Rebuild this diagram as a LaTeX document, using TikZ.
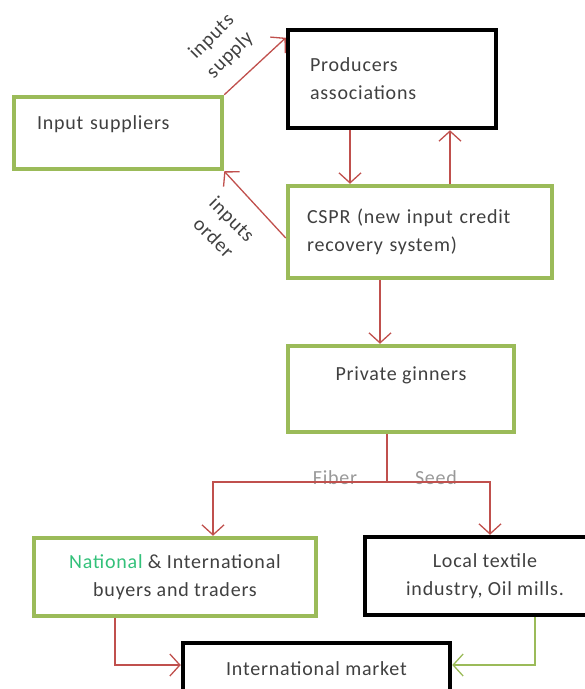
\documentclass[tikz,border=0pt]{standalone}
\usepackage{fontspec}
\setmainfont[LetterSpace=4]{Carlito}
\usepackage{tikz}
\usetikzlibrary{positioning, arrows.meta}
\definecolor{chgreen}{HTML}{9BBB59}
\definecolor{chred}{HTML}{C0504D}
\definecolor{chtext}{HTML}{404040}
\definecolor{chnat}{HTML}{33C17A}
\tikzset{
    chbox/.style={draw=chgreen, line width=4.5pt, fill=white, align=left, text=chtext, font=\fontsize{20}{28}\selectfont},
    chkey/.style={draw=black, line width=4.5pt, fill=white, align=center, text=chtext, font=\fontsize{20}{28}\selectfont},
    charrow/.style={-{Straight Barb[length=10pt, width=22pt]}, line width=1.3pt, draw=chred},
    charrowg/.style={charrow, draw=chgreen},
    chlbl/.style={text=chtext, align=center, font=\fontsize{20}{26}\selectfont},
    chsplit/.style={text=black!40, font=\fontsize{20}{20}\selectfont, anchor=base},
}

\begin{document}
\begin{tikzpicture}[x=1pt, y=-1pt]
        \clip (0,0) rectangle (585,689);
        \node[chbox, minimum width=208pt, minimum height=72pt, text width=162pt, inner xsep=23pt, text depth=20pt] (supp) at (118,133) {Input suppliers};
        \node[chkey, minimum width=208pt, minimum height=98pt, text width=164pt, inner xsep=22pt, align=left] (prod) at (392,79) {Producers\\ associations};
        \node[chbox, minimum width=264pt, minimum height=92pt, text width=226pt, inner xsep=19pt] (cspr) at (420,232) {CSPR (new input credit\\ recovery system)};
        \node[chbox, minimum width=226pt, minimum height=86pt, align=center, text depth=30pt] (ginn) at (401,389) {Private ginners};
        \node[chbox, minimum width=282pt, minimum height=78pt, align=center] (buyers) at (175,577) {\textcolor{chnat}{National} \& International\\ buyers and traders};
        \node[chkey, minimum width=240pt, minimum height=78pt] (local) at (485,576) {Local textile\\ industry, Oil mills.};
        \node[chkey, minimum width=267pt, minimum height=64pt, text depth=12pt] (market) at (316.5,675) {International market};
        \node[chlbl, rotate=45] (supplbl) at (221,46) {inputs\\ supply};
        \node[chlbl, rotate=-45] (orderlbl) at (223,228) {inputs\\ order};
        \node[chsplit] (fiber) at (335,484) {Fiber};
        \node[chsplit] (seed) at (436,484) {Seed};
        \coordinate (split) at (387,482);
        \draw[charrow] (supp.north east) -- ([yshift=-10pt]prod.north west);
        \draw[charrow] ([yshift=-6pt]cspr.west) -- (supp.south east);
        \draw[charrow] ([xshift=-42pt]prod.south) -- ([xshift=-42pt]prod.south |- cspr.north);
        \draw[charrow] ([xshift=58pt]prod.south |- cspr.north) -- ([xshift=58pt]prod.south);
        \draw[charrow] ([xshift=-21pt]ginn.north |- cspr.south) -- ([xshift=-21pt]ginn.north);
        \draw[chred, line width=1.3pt] ([xshift=-14pt]ginn.south) -- (split);
        \draw[charrow] (split) -| ([xshift=38pt]buyers.north);
        \draw[charrow] (split) -| ([xshift=5pt]local.north);
        \draw[charrow] ([xshift=-60pt]buyers.south) |- ([yshift=10pt]market.west);
        \draw[charrowg] ([xshift=50pt]local.south) |- ([yshift=10pt]market.east);
    \end{tikzpicture}
\end{document}
